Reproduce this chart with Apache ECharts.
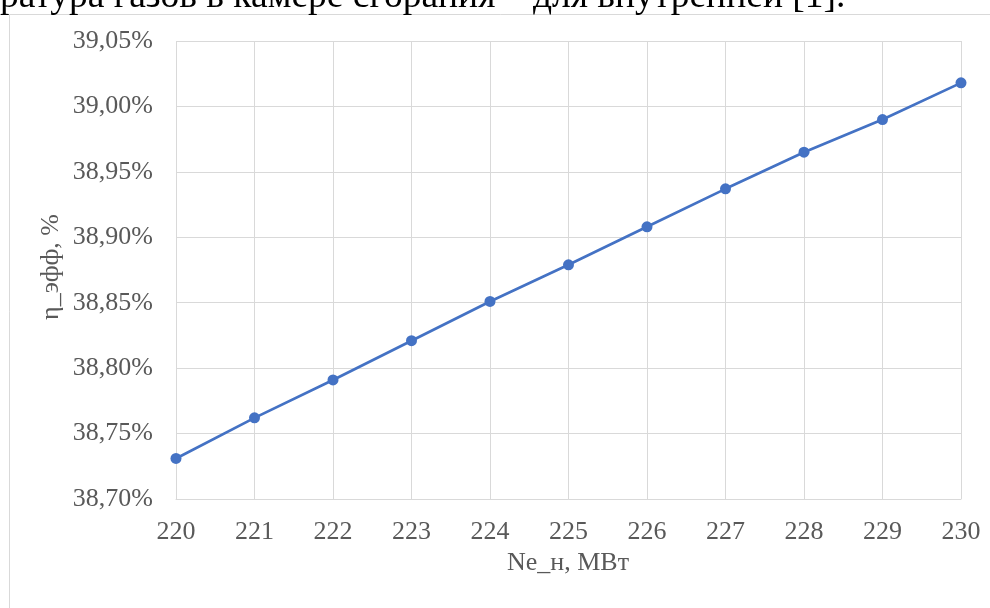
<!DOCTYPE html>
<html><head><meta charset="utf-8">
<script src="https://cdn.jsdelivr.net/npm/echarts@6/dist/echarts.min.js"></script>
<style>html,body{margin:0;padding:0;background:#fff}#c{width:990px;height:608px}</style>
</head><body><div id="c"></div>
<script>
const xValues = [220, 221, 222, 223, 224, 225, 226, 227, 228, 229, 230];
const effValues = [38.731, 38.762, 38.791, 38.821, 38.851, 38.879, 38.908, 38.937, 38.965, 38.990, 39.018];
const xTitle = 'Ne_н, МВт';
const yTitle = 'η_эфф, %';
const headerText = 'ратура газов в камере сгорания – для внутренней [1].';

const chart = echarts.init(document.getElementById('c'), null, {renderer: 'canvas'});
const font = '"Liberation Serif", "Times New Roman", serif';
chart.setOption({
  animation: false,
  backgroundColor: '#fff',
  grid: {left: 176, right: 29, top: 41, bottom: 109},
  xAxis: {
    type: 'value', min: 220, max: 230, interval: 1,
    axisLine: {show: true, lineStyle: {color: '#d9d9d9', width: 1}},
    axisTick: {show: false},
    splitLine: {show: true, lineStyle: {color: '#d9d9d9', width: 1}},
    axisLabel: {color: '#595959', fontFamily: font, fontSize: 26, margin: 20}
  },
  yAxis: {
    type: 'value', min: 38.70, max: 39.05, interval: 0.05,
    axisLine: {show: false},
    axisTick: {show: false},
    splitLine: {show: true, lineStyle: {color: '#d9d9d9', width: 1}},
    axisLabel: {color: '#595959', fontFamily: font, fontSize: 26, margin: 23,
      formatter: v => v.toFixed(2).replace('.', ',') + '%'}
  },
  series: [{
    type: 'line',
    data: xValues.map((x, i) => [x, effValues[i]]),
    symbol: 'circle', symbolSize: 11,
    lineStyle: {color: '#4472C4', width: 2.75},
    itemStyle: {color: '#4472C4'}
  }],
  graphic: [
    {type: 'rect', shape: {x: 9.5, y: 14.5, width: 1000, height: 700}, style: {fill: null, stroke: '#d9d9d9', lineWidth: 1}, silent: true},
    {type: 'text', x: 0, y: -22, style: {text: headerText, font: '37.5px ' + font, fill: '#000', verticalAlign: 'top'}},
    {type: 'text', x: 568, y: 563, style: {text: xTitle, font: '26px ' + font, fill: '#595959', align: 'center', verticalAlign: 'middle'}},
    {type: 'text', x: 51, y: 267, rotation: Math.PI / 2, style: {text: yTitle, font: '26px ' + font, fill: '#595959', align: 'center', verticalAlign: 'middle'}}
  ]
});
</script></body></html>
